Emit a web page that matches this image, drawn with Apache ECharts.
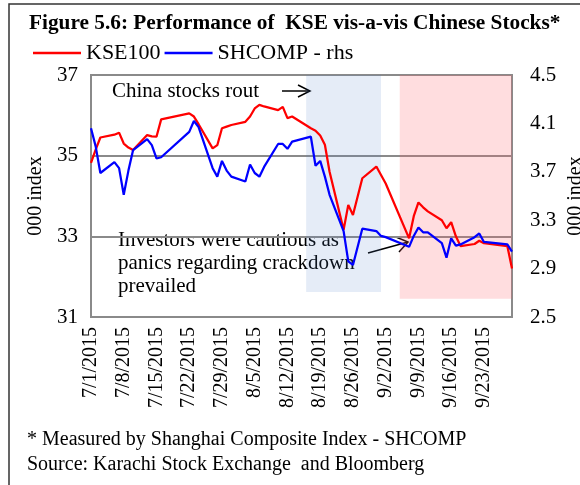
<!DOCTYPE html>
<html><head><meta charset="utf-8">
<script src="https://cdn.jsdelivr.net/npm/echarts@6/dist/echarts.min.js"></script>
<style>html,body{margin:0;padding:0;background:#fff}#c{width:580px;height:485px}</style>
</head><body><div id="c"></div>
<script>
// ---- data ----
const tradingDates = ['7/1/2015','7/2/2015','7/3/2015','7/6/2015','7/7/2015','7/8/2015','7/9/2015','7/10/2015',
 '7/13/2015','7/14/2015','7/15/2015','7/16/2015','7/22/2015','7/23/2015','7/24/2015','7/27/2015','7/28/2015',
 '7/29/2015','7/30/2015','7/31/2015','8/3/2015','8/4/2015','8/5/2015','8/6/2015','8/7/2015','8/10/2015',
 '8/11/2015','8/12/2015','8/13/2015','8/17/2015','8/18/2015','8/19/2015','8/20/2015','8/21/2015','8/24/2015',
 '8/25/2015','8/26/2015','8/28/2015','8/31/2015','9/1/2015','9/2/2015','9/7/2015','9/8/2015','9/9/2015',
 '9/10/2015','9/11/2015','9/14/2015','9/15/2015','9/16/2015','9/17/2015','9/18/2015','9/21/2015','9/22/2015',
 '9/23/2015','9/28/2015','9/29/2015'];
const kse100 = [34.82,35.15,35.45,35.52,35.57,35.30,35.20,35.14,
 35.51,35.48,35.47,35.90,36.05,35.97,35.78,35.18,35.26,
 35.68,35.72,35.76,35.84,35.97,36.17,36.26,36.22,36.13,
 36.21,35.93,35.97,35.68,35.62,35.50,35.27,34.60,33.16,
 33.78,33.53,34.44,34.73,34.52,34.31,32.95,33.50,33.84,
 33.72,33.62,33.40,33.20,33.35,33.00,32.76,32.81,32.89,
 32.83,32.76,32.20];
const shcomp = [4.06,3.91,3.69,3.78,3.73,3.51,3.71,3.88,
 3.97,3.92,3.81,3.82,4.03,4.12,4.07,3.73,3.66,
 3.79,3.71,3.66,3.62,3.76,3.69,3.66,3.74,3.93,
 3.93,3.89,3.95,3.99,3.75,3.79,3.66,3.51,3.21,
 2.96,2.93,3.23,3.21,3.17,3.16,3.08,3.17,3.24,
 3.20,3.20,3.11,2.99,3.15,3.09,3.10,3.16,3.19,
 3.12,3.10,3.04];
const tickLabels = ['7/1/2015','7/8/2015','7/15/2015','7/22/2015','7/29/2015','8/5/2015','8/12/2015',
 '8/19/2015','8/26/2015','9/2/2015','9/9/2015','9/16/2015','9/23/2015'];
const axisStart = '7/1/2015', axisEnd = '9/29/2015';
const chinaRoutSpan = ['8/16/2015','9/1/2015'];
const cautionSpan = ['9/5/2015','9/29/2015'];
const leftTicks = {min:31, max:37, step:2};
const rightTicks = {min:2.5, max:4.5, step:0.4};

// ---- build ----
const FONT = "'Liberation Serif','Times New Roman',serif";
function parse(s){const [m,d,y]=s.split('/').map(Number);return Date.UTC(y,m-1,d);}
function fmt(t){const d=new Date(t);return (d.getUTCMonth()+1)+'/'+d.getUTCDate()+'/'+d.getUTCFullYear();}
const days=[];
for(let t=parse(axisStart);t<=parse(axisEnd);t+=86400000) days.push(fmt(t));
const idx=new Map(tradingDates.map((d,i)=>[d,i]));
const kseData=days.map(d=>idx.has(d)?kse100[idx.get(d)]:null);
const shData=days.map(d=>idx.has(d)?shcomp[idx.get(d)]:null);

const chart=echarts.init(document.getElementById('c'),null,{renderer:'canvas'});
const gray='#8a8a8a';
chart.setOption({
  animation:false,
  backgroundColor:'#fff',
  textStyle:{fontFamily:FONT,color:'#000'},
  title:{text:'Figure 5.6: Performance of  KSE vis-a-vis Chinese Stocks*',left:24,top:8,
    textStyle:{fontFamily:FONT,fontWeight:'bold',fontSize:21.3,color:'#000'}},
  legend:{data:['KSE100','SHCOMP - rhs'],left:28,top:37,icon:'rect',itemWidth:48,itemHeight:2.5,itemGap:4,
    textStyle:{fontFamily:FONT,fontSize:22,color:'#000'}},
  grid:{left:91,top:75,width:421,height:242,show:true,borderColor:gray,borderWidth:2,containLabel:false,outerBoundsMode:'none'},
  xAxis:{type:'category',data:days,boundaryGap:false,
    axisLine:{show:true,lineStyle:{color:gray,width:2}},axisTick:{show:false},splitLine:{show:false},
    axisLabel:{interval:(i,v)=>tickLabels.includes(v),rotate:90,fontFamily:FONT,fontSize:20,color:'#000',margin:10}},
  yAxis:[
    {type:'value',min:leftTicks.min,max:leftTicks.max,interval:leftTicks.step,
     axisLine:{show:true,lineStyle:{color:gray,width:2}},axisTick:{show:false},
     splitLine:{show:true,lineStyle:{color:gray,width:2}},
     axisLabel:{fontFamily:FONT,fontSize:21,color:'#000',margin:13},
     name:'000 index',nameLocation:'middle',nameRotate:90,nameGap:44,
     nameTextStyle:{fontFamily:FONT,fontSize:20,color:'#000'}},
    {type:'value',position:'right',min:rightTicks.min,max:rightTicks.max,interval:rightTicks.step,
     axisLine:{show:true,lineStyle:{color:gray,width:2}},axisTick:{show:false},splitLine:{show:false},
     axisLabel:{fontFamily:FONT,fontSize:21,color:'#000',margin:18,formatter:v=>v.toFixed(1)},
     name:'000 index',nameLocation:'middle',nameRotate:90,nameGap:54,nameMoveOverlap:false,
     nameTextStyle:{fontFamily:FONT,fontSize:20,color:'#000'}}
  ],
  series:[
    {name:'KSE100',type:'line',yAxisIndex:0,data:kseData,connectNulls:true,showSymbol:false,symbol:'none',
     lineStyle:{color:'#ff0000',width:2.25},itemStyle:{color:'#ff0000'},
     markArea:{silent:true,data:[
       [{xAxis:chinaRoutSpan[0],yAxis:37,itemStyle:{color:'rgba(80,130,200,0.15)'}},{xAxis:chinaRoutSpan[1],yAxis:31.62}],
       [{xAxis:cautionSpan[0],yAxis:37,itemStyle:{color:'rgba(255,100,110,0.22)'}},{xAxis:cautionSpan[1],yAxis:31.45}]
     ]}},
    {name:'SHCOMP - rhs',type:'line',yAxisIndex:1,data:shData,connectNulls:true,showSymbol:false,symbol:'none',
     lineStyle:{color:'#0000ff',width:2.25},itemStyle:{color:'#0000ff'}}
  ],
  graphic:[
    {type:'rect',shape:{x:9,y:4,width:590,height:500},style:{fill:null,stroke:'#333',lineWidth:1.5},silent:true,z:-1},
    {type:'text',x:112,y:91,style:{text:'China stocks rout',font:"21px "+FONT,fill:'#000',textVerticalAlign:'middle'}},
    {type:'polyline',shape:{points:[[282,91],[310,91]]},style:{stroke:'#000',lineWidth:1.5}},
    {type:'polyline',shape:{points:[[298,85],[310,91],[298,97]]},style:{stroke:'#000',lineWidth:1.5,fill:null}},
    {type:'text',x:118,y:229,style:{text:'Investors were cautious as\npanics regarding crackdown\nprevailed',
      font:"21px "+FONT,fill:'#000',lineHeight:23}},
    {type:'polyline',shape:{points:[[368,253],[408,242]]},style:{stroke:'#000',lineWidth:1.5}},
    {type:'polyline',shape:{points:[[396,237],[408,242],[399,252]]},style:{stroke:'#000',lineWidth:1.5,fill:null}},
    {type:'text',x:27,y:440,style:{text:'* Measured by Shanghai Composite Index - SHCOMP',font:"20px "+FONT,fill:'#000',textVerticalAlign:'middle'}},
    {type:'text',x:27,y:465,style:{text:'Source: Karachi Stock Exchange  and Bloomberg',font:"20px "+FONT,fill:'#000',textVerticalAlign:'middle'}}
  ]
});
</script></body></html>
